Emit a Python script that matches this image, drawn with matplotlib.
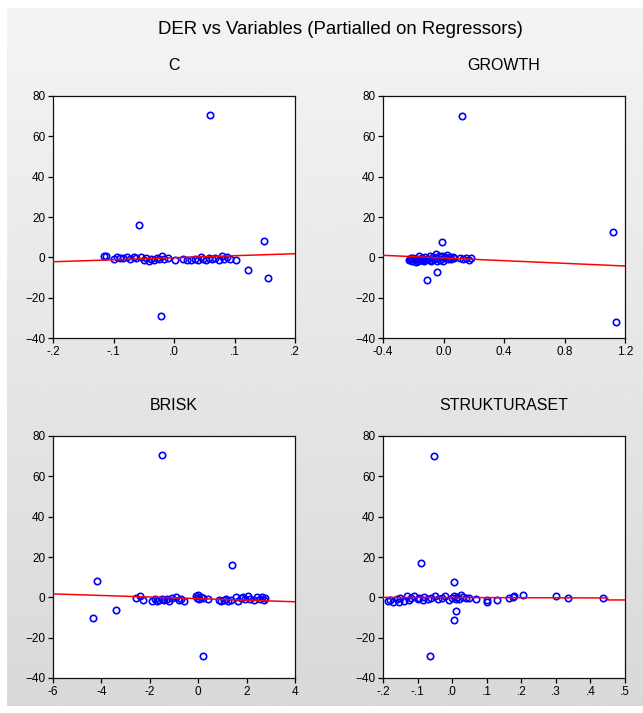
import numpy as np
import matplotlib
matplotlib.use("Agg")
import matplotlib.pyplot as plt

plt.rcParams['font.family'] = ['Liberation Sans', 'DejaVu Sans']

# ---------------- data ----------------
c_x = [-0.115, -0.113, -0.100, -0.095, -0.090, -0.085, -0.078, -0.072, -0.066, -0.062,
       -0.055, -0.050, -0.046, -0.042, -0.038, -0.033, -0.028, -0.024, -0.020, -0.016,
       -0.010, 0.002, 0.015, 0.022, 0.028, 0.035, 0.040, 0.045, 0.048, 0.053,
       0.058, 0.062, 0.068, 0.075, 0.080, 0.083, 0.088, 0.092, 0.102,
       0.060, -0.058, 0.148, 0.122, 0.155, -0.022]
c_y = [0.5, 0.8, -1.0, 0.3, -0.5, -0.2, 0.2, -0.8, 0.0, -0.5,
       0.4, -1.2, -0.3, -2.0, -0.8, -1.5, -0.2, -1.0, 0.5, -0.6,
       -0.4, -1.3, -0.8, -1.5, -1.2, -0.9, -1.4, 0.4, -1.0, -1.3,
       -0.5, -0.8, -0.3, -1.1, 0.6, -0.6, 0.2, -0.9, -1.3,
       70.5, 16.0, 8.0, -6.5, -10.0, -29.0]
c_fit_x = [-0.2, 0.2]
c_fit_y = [-2.2, 1.8]
c_ticks = [-0.2, -0.1, 0.0, 0.1, 0.2]
c_labels = ['-.2', '-.1', '.0', '.1', '.2']

g_x = [-0.23, -0.22, -0.21, -0.20, -0.19, -0.18, -0.17, -0.16, -0.15, -0.14,
       -0.13, -0.12, -0.11, -0.10, -0.09, -0.08, -0.07, -0.06, -0.05, -0.04,
       -0.03, -0.02, -0.01, 0.00, 0.01, 0.02, 0.03, 0.04, 0.05, 0.06,
       0.07, -0.215, -0.185, -0.165, -0.125, -0.085, -0.045, -0.005,
       0.11, 0.13, 0.15, 0.17, 0.18,
       0.12, 1.12, 1.14, -0.01, -0.04, -0.11]
g_y = [-1.5, -1.0, -2.0, -0.5, -1.5, -1.0, -2.0, 0.5, -1.2, -0.3,
       -1.8, 0.2, -1.0, -0.6, 0.8, -1.5, 0.3, -0.8, 1.5, -0.4,
       0.6, -1.2, 0.9, -0.3, 0.4, 1.2, -0.7, 0.2, -0.9, 0.0,
       -0.5, -0.2, -2.2, -0.6, -1.3, -2.0, -1.6, -1.8,
       -0.5, -1.0, -0.3, -1.5, -0.4,
       70.0, 12.5, -32.0, 7.5, -7.5, -11.0]
g_fit_x = [-0.4, 1.2]
g_fit_y = [1.0, -4.3]
g_ticks = [-0.4, 0.0, 0.4, 0.8, 1.2]
g_labels = ['-0.4', '0.0', '0.4', '0.8', '1.2']

b_x = [-2.55, -2.40, -2.30, -1.90, -1.80, -1.70, -1.60, -1.50, -1.40, -1.30,
       -1.20, -1.10, -0.90, -0.80, -0.70, -0.60, -0.10, -0.05, 0.00, 0.05,
       0.10, 0.20, 0.40, 0.85, 0.95, 1.05, 1.15, 1.25, 1.35, 1.55,
       1.65, 1.75, 1.85, 1.95, 2.05, 2.15, 2.30, 2.45, 2.55, 2.65,
       2.70, 2.75,
       -1.5, 1.4, -4.2, -3.4, -4.35, 0.2]
b_y = [-0.5, 0.8, -1.5, -1.8, -1.0, -2.0, -1.2, -0.8, -1.5, -1.0,
       -1.8, -0.5, 0.2, -1.5, -0.8, -1.6, 0.5, -0.3, 1.0, -1.0,
       0.3, -0.5, -0.8, -1.2, -2.0, -1.5, -0.8, -1.8, -1.2, 0.2,
       -1.8, -0.5, 0.3, -1.0, 0.5, -0.7, -1.2, 0.2, -0.9, 0.4,
       -1.5, -0.3,
       70.5, 16.0, 8.0, -6.5, -10.0, -29.0]
b_fit_x = [-6.0, 4.0]
b_fit_y = [1.7, -2.2]
b_ticks = [-6, -4, -2, 0, 2, 4]
b_labels = ['-6', '-4', '-2', '0', '2', '4']

s_x = [-0.185, -0.18, -0.17, -0.16, -0.155, -0.15, -0.14, -0.13, -0.125, -0.12,
       -0.11, -0.10, -0.095, -0.085, -0.08, -0.07, -0.06, -0.05, -0.04, -0.03,
       -0.02, -0.01, 0.00, 0.005, 0.01, 0.015, 0.02, 0.025, 0.03, 0.04,
       0.05, 0.07, 0.10, 0.10, 0.13, 0.165, 0.175, 0.18, 0.205, 0.30,
       0.335, 0.435,
       -0.052, -0.09, 0.005, 0.012, 0.005, -0.065]
s_y = [-2.0, -1.5, -2.5, -1.0, -2.2, -0.5, -1.8, 0.5, -1.2, -0.3,
       0.8, -1.0, -0.5, -1.5, 0.2, -1.0, -0.3, 0.6, -0.8, -0.2,
       0.5, -1.2, -0.4, 0.8, -0.9, 0.3, -0.6, 1.0, 0.1, -0.5,
       -0.3, -1.0, -1.5, -2.5, -1.5, -0.5, 0.0, 0.5, 1.2, 0.5,
       -0.5, -0.5,
       70.0, 17.0, 7.5, -7.0, -11.0, -29.0]
s_fit_x = [-0.2, 0.45, 0.45, 0.5]
s_fit_y = [0.0, -0.3, -1.3, -1.3]
s_ticks = [-0.2, -0.1, 0.0, 0.1, 0.2, 0.3, 0.4, 0.5]
s_labels = ['-.2', '-.1', '.0', '.1', '.2', '.3', '.4', '.5']

y_ticks = [-40, -20, 0, 20, 40, 60, 80]

main_title = 'DER vs Variables (Partialled on Regressors)'
titles = ['C', 'GROWTH', 'BRISK', 'STRUKTURASET']

# ---------------- figure ----------------
W, H = 643, 713
fig = plt.figure(figsize=(W / 100, H / 100), dpi=100)
fig.patch.set_facecolor('white')

# gradient background panel
bg = fig.add_axes([7 / W, (H - 706) / H, 1 - 7 / W, (706 - 8) / H], zorder=-10)
grad = np.linspace(0.955, 0.85, 256).reshape(-1, 1)
bg.imshow(np.repeat(grad, 2, axis=1), cmap='gray', vmin=0, vmax=1,
          aspect='auto', extent=[0, 1, 0, 1], interpolation='bilinear')
bg.axis('off')

def pos(l, t, r, b):
    return [l / W, (H - b) / H, (r - l) / W, (b - t) / H]

panels = [
    (pos(53, 96, 295, 338), c_x, c_y, c_fit_x, c_fit_y, (-0.2, 0.2), c_ticks, c_labels),
    (pos(383, 96, 625, 338), g_x, g_y, g_fit_x, g_fit_y, (-0.4, 1.2), g_ticks, g_labels),
    (pos(53, 436, 295, 678), b_x, b_y, b_fit_x, b_fit_y, (-6, 4), b_ticks, b_labels),
    (pos(383, 436, 625, 678), s_x, s_y, s_fit_x, s_fit_y, (-0.2, 0.5), s_ticks, s_labels),
]

for (rect, xs, ys, fx, fy, xlim, xt, xl), title in zip(panels, titles):
    ax = fig.add_axes(rect)
    ax.set_facecolor('white')
    ax.plot(xs, ys, ls='none', marker='o', mfc='none', mec='#0000ff',
            ms=4.6, mew=1.2, zorder=3)
    ax.plot(fx, fy, color='#ff0000', lw=1.1, zorder=4)
    ax.set_xlim(*xlim)
    ax.set_ylim(-40, 80)
    ax.set_xticks(xt)
    ax.set_xticklabels(xl)
    ax.set_yticks(y_ticks)
    ax.tick_params(direction='out', length=3.5, width=0.9, labelsize=8.5,
                   colors='black', pad=2)
    for sp in ax.spines.values():
        sp.set_linewidth(0.9)
        sp.set_color('#111111')
    ax.set_title(title, fontsize=11.5, pad=19)

fig.text(340 / W, 1 - 30 / H, main_title, ha='center', va='center', fontsize=13.4)

fig.savefig('out.png', dpi=100)
